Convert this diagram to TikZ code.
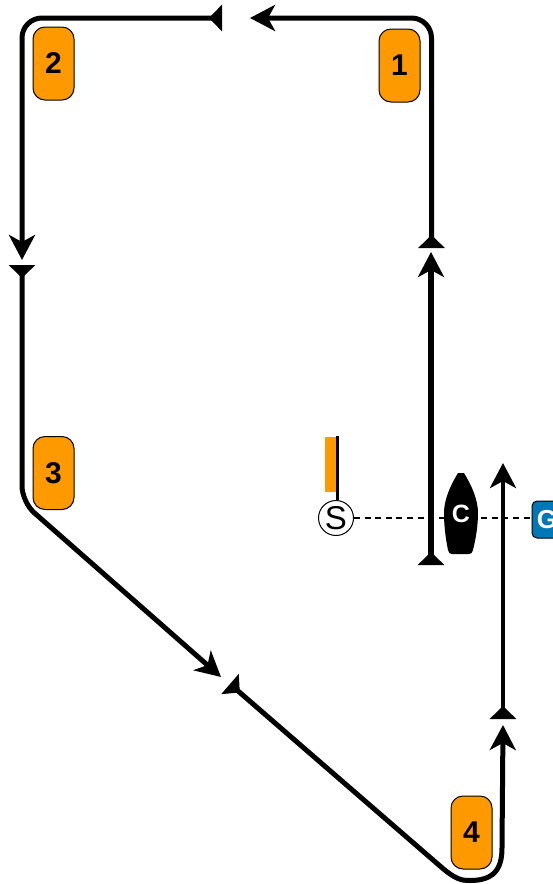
\documentclass[tikz,border=0pt]{standalone}
\usepackage{fontspec}
\setmainfont{Liberation Sans}
\usetikzlibrary{arrows.meta,calc}
\definecolor{markorange}{HTML}{FF9900}
\definecolor{gateblue}{HTML}{0077B6}
\tikzset{
  mark box/.style={draw=black,line width=1pt,fill=markorange,rounded corners=12pt,minimum width=41pt,minimum height=73pt,inner sep=0pt,font=\fontsize{30}{30}\selectfont\bfseries},
  course/.style={line width=5pt,rounded corners=20pt,
    {Triangle[reversed,length=13pt,width=26pt]}-{Stealth[length=25pt,width=26pt,inset=7pt]}},
}
\begin{document}
\begin{tikzpicture}[x=1pt,y=-1pt]
\useasboundingbox (0,0) rectangle (553,884);
\clip (0,0) rectangle (553,884);
% start line
\node[draw=black,line width=1pt,fill=gateblue,rounded corners=5pt,minimum width=30pt,minimum height=37pt,inner sep=0pt,text=white,font=\fontsize{26}{26}\selectfont\bfseries] (G) at (547,519.5) {G};
\node[draw=black,line width=1pt,circle,fill=white,minimum size=35pt,inner sep=0pt,font=\fontsize{33}{33}\selectfont] (S) at (336,518) {S};
\draw[line width=2.4pt,dash pattern=on 6pt off 4.6pt] (S.east) -- (S.east-|G.west);
\node[fill=markorange,minimum width=11pt,minimum height=55pt,inner sep=0pt,anchor=north west] (flag) at (325,437) {};
\coordinate (flagtop) at (337.5,436);
\draw[line width=2.6pt] (flagtop) -- (S.north-|flagtop);
% boat
\path[fill=black] (458,473) -- (464,473) .. controls (472,486) and (478,500) .. (478,513)
  .. controls (478,525) and (476,538) .. (473,550) .. controls (472.5,553) and (471,554) .. (469,554)
  -- (452,554) .. controls (450,554) and (448.5,553) .. (448,550)
  .. controls (445.5,538) and (444,525) .. (444,513) .. controls (444,500) and (450,486) .. (458,473) -- cycle;
\node[text=white,inner sep=0pt,font=\fontsize{25}{25}\selectfont\bfseries] (C) at (461,514) {C};
% marks
\node[mark box] (m1) at (399.5,65.5) {1};
\node[mark box] (m2) at (53.5,63.5) {2};
\node[mark box] (m3) at (53.5,473) {3};
\node[mark box] (m4) at (471.5,832.5) {4};
% course coordinates
\coordinate (a1) at (431.5,248);
\coordinate (a2) at (431.5,18);
\coordinate (a3) at (250,18);
\coordinate (b1) at (222,18);
\coordinate (b2) at (22,18);
\coordinate (b3) at (22,260);
\coordinate (c1) at (22,265);
\coordinate (c2) at (22,502);
\coordinate (c3) at (221,677);
\coordinate (d1) at (230,684);
\coordinate (d2) at (440,866);
\coordinate (d3) at (470,880.5);
\coordinate (d4) at (502,848);
\coordinate (d5) at (503,725);
\coordinate (e1) at (503,719);
\coordinate (e2) at (503,463);
\coordinate (f1) at (431,565);
\coordinate (f2) at (431,252);
% course legs
\draw[course] (a1) -- (a2) -- (a3);
\draw[course] (b1) -- (b2) -- (b3);
\draw[course,rounded corners=16pt] (c1) -- (c2) -- (c3);
\draw[course,rounded corners=0pt] (d1) -- (d2) .. controls (456,880) and (462,880.5) .. (d3) .. controls (493,880.5) and (502,870) .. (d4) -- (d5);
\draw[course,line width=4.4pt] (e1) -- (e2);
\draw[course,line width=6pt] (f1) -- (f2);
\end{tikzpicture}
\end{document}
